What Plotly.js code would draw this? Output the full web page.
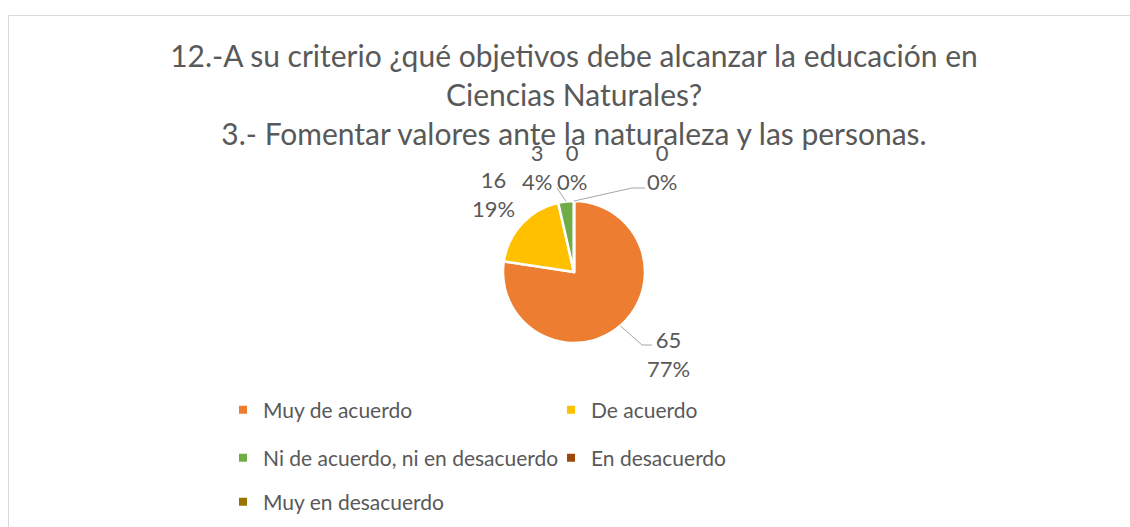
<!DOCTYPE html>
<html>
<head>
<meta charset="utf-8">
<script src="https://cdn.plot.ly/plotly-3.0.1.min.js"></script>
<style>html,body{margin:0;padding:0;background:#fff;}#chart{width:1130px;height:527px;}</style>
</head>
<body>
<div id="chart"></div>
<script>
// ---- data ----
const categories = ['Muy de acuerdo', 'De acuerdo', 'Ni de acuerdo, ni en desacuerdo', 'En desacuerdo', 'Muy en desacuerdo'];
const values = [65, 16, 3, 0, 0];
const colors = ['#ED7D31', '#FFC000', '#70AD47', '#9E480E', '#997300'];
const titleLines = ['12.-A su criterio ¿qué objetivos debe alcanzar la educación en', 'Ciencias Naturales?', '3.- Fomentar valores ante la naturaleza y las personas.'];

// ---- layout config ----
const W = 1130, H = 527;
const FONT = 'Lato, "Liberation Sans", sans-serif';
const TXT = '#595959';
const pieCx = 574, pieCy = 272, pieR = 71;
// label block centres (px) and leader-line bends (px) per category
const labelPos = [[668, 354], [493, 194], [537, 167], [572, 167], [662, 167]];
const leaderBends = [[[642, 345], [652, 345]], null, [[557, 188]], null, [[632, 188], [645, 188]]];

const px = x => x / W;
const py = y => 1 - y / H;

const total = values.reduce((a, b) => a + b, 0);
const pct = values.map(v => Math.round(v / total * 100) + '%');

// slice mid angles (clockwise from 12 o'clock)
let cum = 0;
const midAng = values.map(v => { const m = (cum + v / 2) / total * 2 * Math.PI; cum += v; return m; });

const annotations = categories.map((c, i) => ({
  xref: 'paper', yref: 'paper', x: px(labelPos[i][0]), y: py(labelPos[i][1]),
  xanchor: 'center', yanchor: 'middle', showarrow: false, align: 'center',
  text: values[i] + '<br>' + pct[i],
  font: {family: FONT, size: 22, color: TXT}
}));

const shapes = [{
  type: 'rect', xref: 'paper', yref: 'paper',
  x0: px(8.5), x1: 1.2, y0: -0.2, y1: py(15.5),
  line: {color: '#D9D9D9', width: 1}, fillcolor: 'rgba(0,0,0,0)'
}];
leaderBends.forEach((b, i) => {
  if (!b) return;
  const sx = pieCx + pieR * Math.sin(midAng[i]);
  const sy = pieCy - pieR * Math.cos(midAng[i]);
  let path = 'M ' + px(sx) + ',' + py(sy);
  b.forEach(p => { path += ' L ' + px(p[0]) + ',' + py(p[1]); });
  shapes.push({type: 'path', xref: 'paper', yref: 'paper', path: path, line: {color: '#A6A6A6', width: 1}});
});

const traces = [{
  type: 'pie', labels: categories, values: values, sort: false, direction: 'clockwise', rotation: 0,
  marker: {colors: colors, line: {color: '#ffffff', width: 2.5}},
  textinfo: 'none', hoverinfo: 'label+value+percent', showlegend: false,
  domain: {x: [px(pieCx - pieR), px(pieCx + pieR)], y: [py(pieCy + pieR), py(pieCy - pieR)]}
}];
// legend entries (one dummy marker trace per category, split over three rows)
const legendOf = ['legend', 'legend', 'legend2', 'legend2', 'legend3'];
categories.forEach((c, i) => {
  traces.push({type: 'scatter', mode: 'markers', x: [null], y: [null], name: c,
    marker: {symbol: 'square', size: 8, color: colors[i]}, legend: legendOf[i], showlegend: true, hoverinfo: 'skip'});
});

const legendBase = {orientation: 'h', xanchor: 'left', yanchor: 'middle', x: px(223),
  entrywidth: 283, entrywidthmode: 'pixels', bgcolor: 'rgba(0,0,0,0)', traceorder: 'normal',
  font: {family: FONT, size: 21, color: TXT}, itemclick: false, itemdoubleclick: false};

const layout = {
  width: W, height: H, margin: {l: 0, r: 0, t: 0, b: 0},
  paper_bgcolor: '#ffffff', plot_bgcolor: '#ffffff',
  title: {text: titleLines.join('<br>'), font: {family: FONT, size: 30, color: TXT},
    x: px(574), xanchor: 'center', xref: 'container', yref: 'container', y: py(67), yanchor: 'top'},
  xaxis: {visible: false}, yaxis: {visible: false},
  legend: Object.assign({}, legendBase, {y: py(410)}),
  legend2: Object.assign({}, legendBase, {y: py(458)}),
  legend3: Object.assign({}, legendBase, {y: py(502)}),
  annotations: annotations, shapes: shapes
};

Plotly.newPlot('chart', traces, layout, {displayModeBar: false, staticPlot: true});
</script>
</body>
</html>
